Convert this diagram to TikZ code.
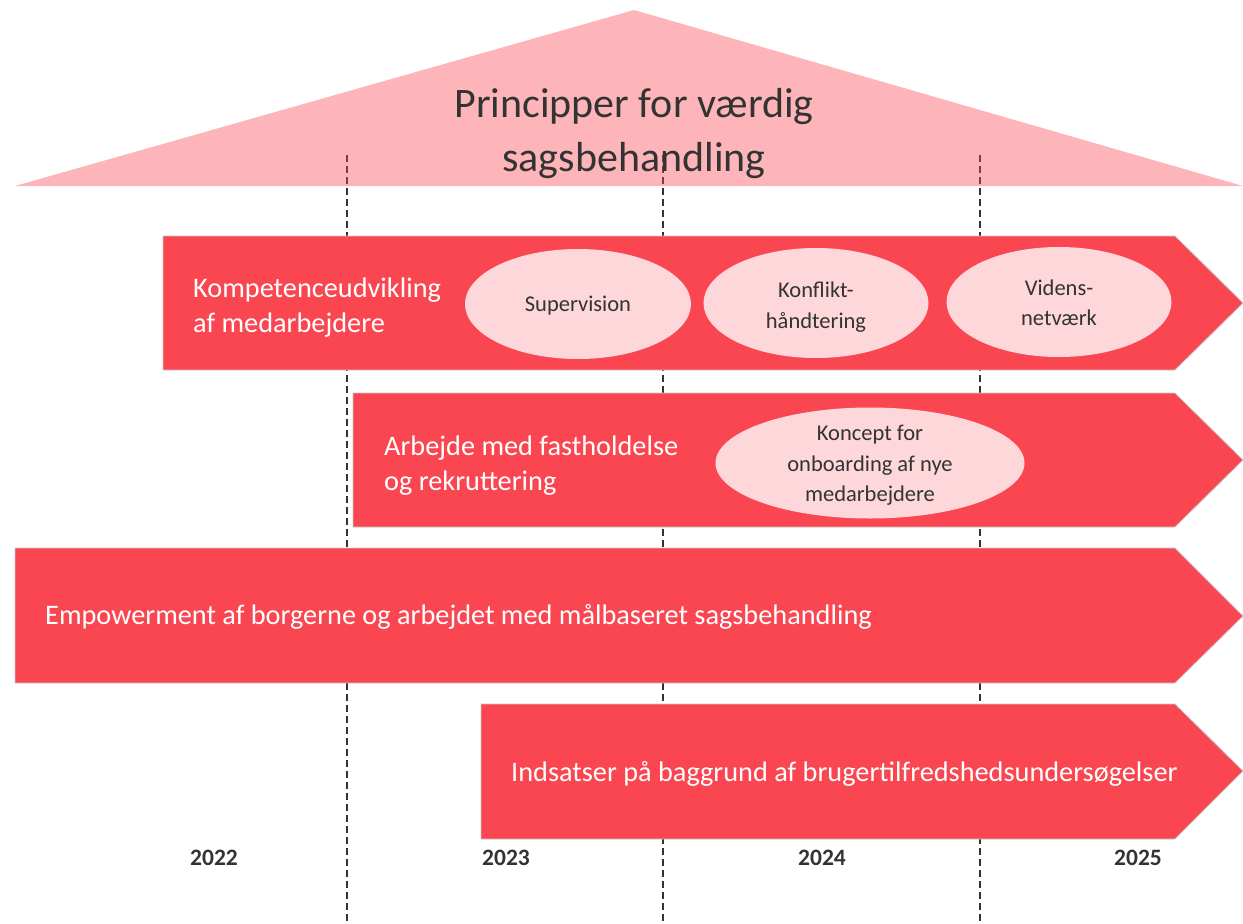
\documentclass[tikz,border=0pt]{standalone}
\usepackage{fontspec}
\usetikzlibrary{shapes.geometric}
\setmainfont{Carlito}
\definecolor{barred}{HTML}{FA4651}
\definecolor{barline}{HTML}{C8C8C8}
\definecolor{roof}{HTML}{FA4651}
\definecolor{ovalfill}{HTML}{FDD7DA}
\definecolor{darktext}{HTML}{333333}
\begin{document}
\begin{tikzpicture}[x=1pt,y=-1pt,
  bar/.style={fill=barred,draw=barline,line width=0.8pt},
  bartext/.style={anchor=west,align=left,text=white,inner sep=0pt,font=\fontsize{28.3}{35}\selectfont},
  oval/.style={ellipse,fill=ovalfill,draw=none,inner sep=0pt},
  ovaltext/.style={align=center,text=darktext,inner sep=0pt,font=\fontsize{22.5}{30.5}\selectfont},
  yeartext/.style={text=darktext,inner sep=0pt,font=\bfseries\fontsize{23.5}{26}\selectfont},
  grid/.style={draw=darktext,dashed,line width=1.1pt,dash pattern=on 7pt off 4pt}]
\useasboundingbox (0,0) rectangle (1243,924);
% dashed year separators
\foreach \x/\n in {347/a,663/b,980/c}{
  \coordinate (top\n) at (\x,155);
  \coordinate (bot\n) at (\x,924);
  \draw[grid] (top\n) -- (bot\n);
}
% roof
\fill[roof,fill opacity=0.4] (15,186) -- (634,10) -- (1243,186) -- cycle;
\node[text=darktext,align=center,inner sep=0pt,font=\fontsize{42}{54}\selectfont] (title) at (634,133.5) {Principper for værdig\\sagsbehandling};
% bars
\draw[bar] (163,236) -- (1175,236) -- (1243,303) -- (1175,370) -- (163,370) -- cycle;
\draw[bar] (353,393) -- (1175,393) -- (1243,460) -- (1175,527) -- (353,527) -- cycle;
\draw[bar] (15,548) -- (1175,548) -- (1243,616) -- (1175,683) -- (15,683) -- cycle;
\draw[bar] (481,704) -- (1175,704) -- (1243,771) -- (1175,839) -- (481,839) -- cycle;
% bar texts
\node[bartext] (t1) at (193,308) {Kompetenceudvikling\\af medarbejdere};
\node[bartext] (t2) at (384,466) {Arbejde med fastholdelse\\og rekruttering};
\node[bartext] (t3) at (45,617) {Empowerment af borgerne og arbejdet med målbaseret sagsbehandling};
\node[bartext] (t4) at (511,774) {Indsatser på baggrund af brugertilfredshedsundersøgelser};
% ovals
\node[oval,minimum width=226pt,minimum height=110pt] (o1) at (578,304) {};
\node[ovaltext] at ([yshift=-2pt]o1) {Supervision};
\node[oval,minimum width=225pt,minimum height=110pt] (o2) at (816,303) {};
\node[ovaltext] at ([yshift=-4pt]o2) {Konflikt-\\håndtering};
\node[oval,minimum width=225pt,minimum height=110pt] (o3) at (1059,302) {};
\node[ovaltext] at ([yshift=-1pt]o3) {Videns-\\netværk};
\node[oval,minimum width=309pt,minimum height=111pt] (o4) at (870,463) {};
\node[ovaltext] at ([yshift=-2.5pt]o4) {Koncept for\\onboarding af nye\\medarbejdere};
% years
\node[yeartext] (y22) at (214,858) {2022};
\node[yeartext] (y23) at (506,858) {2023};
\node[yeartext] (y24) at (822,858) {2024};
\node[yeartext] (y25) at (1138,858) {2025};
\end{tikzpicture}
\end{document}
